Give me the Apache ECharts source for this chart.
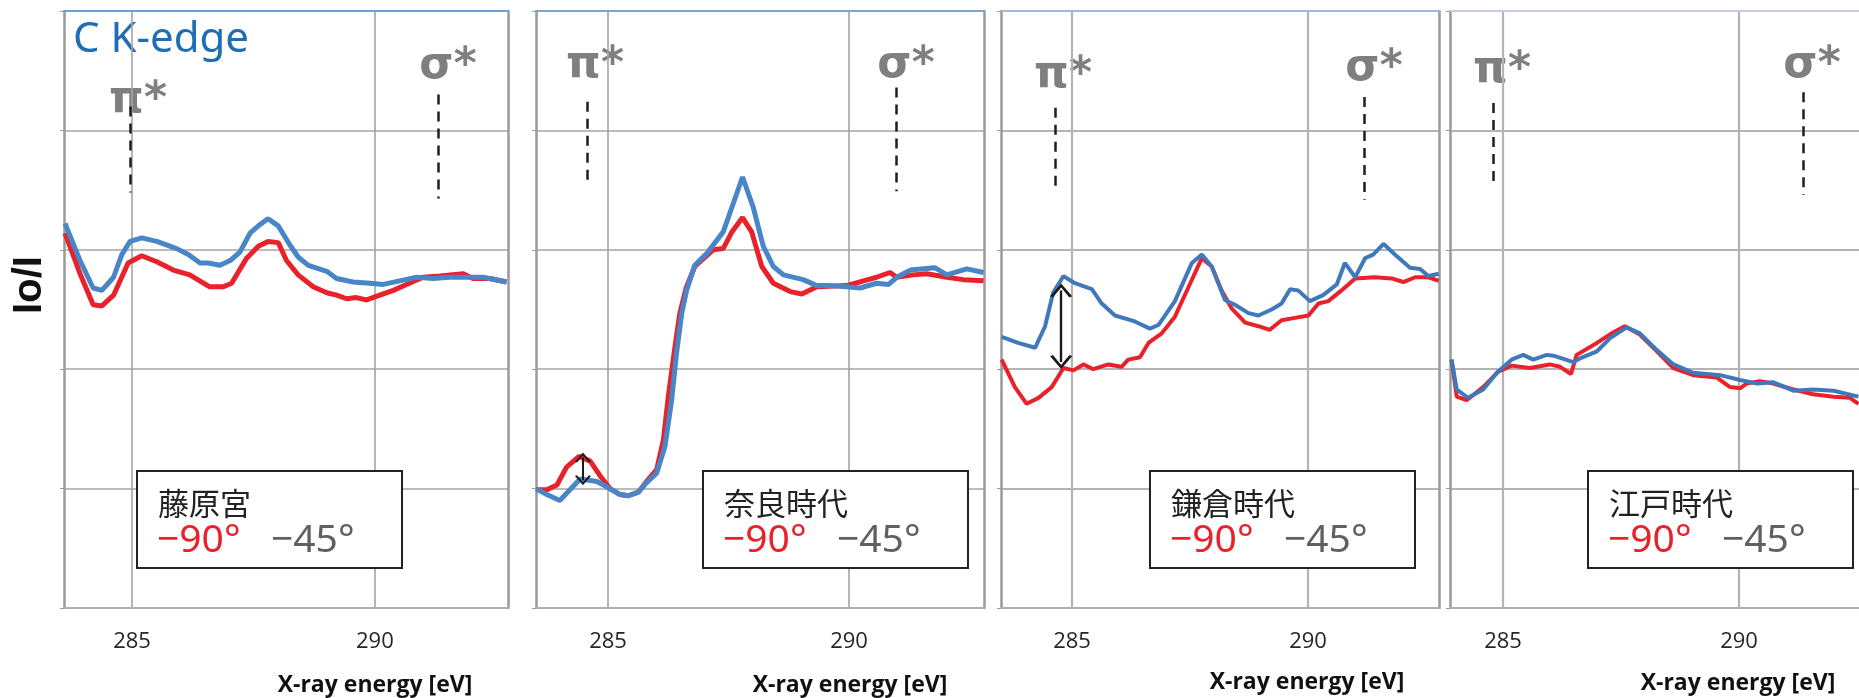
<!DOCTYPE html>
<html><head><meta charset="utf-8">
<style>html,body{margin:0;padding:0;background:#fff}#c{width:1859px;height:698px}</style>
<script src="https://cdn.jsdelivr.net/npm/echarts@6/dist/echarts.min.js"></script>
</head><body><div id="c"></div>
<script>
// ---- data (energy [eV], Io/I in arbitrary units) ----
const panelTitles = ['藤原宮', '奈良時代', '鎌倉時代', '江戸時代'];
const tickValues = [285, 290];
const legendRed = '−90°';
const legendGray = '−45°';

const fujiwara90 = [[283.62,3.14],[283.93,2.80],[284.20,2.54],[284.38,2.53],[284.62,2.62],[284.92,2.89],[285.20,2.95],[285.51,2.90],[285.85,2.83],[286.19,2.79],[286.60,2.69],[286.88,2.69],[287.05,2.72],[287.36,2.93],[287.60,3.03],[287.80,3.07],[288.01,3.06],[288.18,2.91],[288.42,2.79],[288.73,2.69],[289.01,2.64],[289.21,2.62],[289.42,2.59],[289.62,2.60],[289.83,2.58],[290.10,2.62],[290.38,2.66],[290.65,2.71],[290.99,2.77],[291.34,2.78],[291.82,2.80],[292.02,2.76],[292.37,2.76],[292.71,2.73]];
const fujiwara45 = [[283.62,3.22],[283.93,2.91],[284.20,2.68],[284.38,2.66],[284.62,2.77],[284.79,2.96],[284.96,3.07],[285.20,3.10],[285.51,3.07],[285.92,3.01],[286.16,2.96],[286.40,2.89],[286.57,2.89],[286.81,2.87],[287.02,2.91],[287.22,2.98],[287.43,3.14],[287.63,3.21],[287.80,3.26],[288.01,3.20],[288.25,3.04],[288.42,2.94],[288.63,2.87],[289.01,2.82],[289.21,2.76],[289.55,2.73],[289.90,2.72],[290.17,2.71],[290.51,2.74],[290.86,2.77],[291.20,2.76],[291.54,2.77],[291.89,2.77],[292.23,2.77],[292.71,2.73]];
const nara90 = [[283.51,0.99],[283.73,0.99],[283.94,1.03],[284.14,1.18],[284.40,1.27],[284.63,1.23],[284.83,1.11],[285.04,1.00],[285.25,0.95],[285.42,0.94],[285.63,0.97],[285.80,1.06],[286.01,1.16],[286.15,1.41],[286.25,1.77],[286.39,2.19],[286.49,2.47],[286.62,2.68],[286.80,2.86],[287.18,3.00],[287.39,3.01],[287.57,3.15],[287.79,3.27],[287.98,3.15],[288.19,2.86],[288.43,2.72],[288.78,2.65],[289.02,2.63],[289.33,2.69],[289.95,2.70],[290.30,2.74],[290.57,2.77],[290.85,2.81],[290.99,2.77],[291.33,2.79],[291.61,2.80],[292.03,2.77],[292.37,2.75],[292.79,2.74]];
const nara45 = [[283.51,1.00],[283.73,0.95],[284.00,0.90],[284.21,0.99],[284.42,1.08],[284.77,1.06],[285.04,1.00],[285.25,0.95],[285.42,0.94],[285.63,0.97],[285.80,1.05],[286.01,1.13],[286.18,1.35],[286.32,1.74],[286.42,2.13],[286.53,2.47],[286.63,2.66],[286.80,2.87],[287.05,2.97],[287.39,3.15],[287.60,3.39],[287.79,3.61],[288.01,3.36],[288.22,3.03],[288.43,2.86],[288.64,2.79],[289.05,2.75],[289.33,2.70],[289.61,2.70],[289.95,2.69],[290.23,2.68],[290.57,2.72],[290.82,2.71],[290.99,2.77],[291.27,2.83],[291.78,2.85],[292.03,2.79],[292.44,2.84],[292.79,2.81]];
const kamakura90 = [[283.51,2.08],[283.79,1.85],[284.04,1.71],[284.29,1.76],[284.57,1.85],[284.82,2.01],[285.03,1.99],[285.24,2.04],[285.45,2.00],[285.77,2.04],[286.05,2.02],[286.19,2.08],[286.44,2.10],[286.62,2.22],[286.90,2.30],[287.18,2.44],[287.46,2.68],[287.75,2.93],[287.96,2.86],[288.17,2.66],[288.38,2.51],[288.67,2.39],[288.95,2.36],[289.19,2.33],[289.44,2.41],[289.72,2.43],[290.01,2.45],[290.22,2.55],[290.43,2.57],[290.71,2.66],[291.00,2.76],[291.42,2.77],[291.77,2.76],[292.02,2.73],[292.27,2.77],[292.55,2.77],[292.77,2.74]];
const kamakura45 = [[283.51,2.27],[283.86,2.22],[284.22,2.18],[284.43,2.36],[284.60,2.64],[284.82,2.78],[285.06,2.72],[285.42,2.67],[285.63,2.55],[285.91,2.45],[286.33,2.40],[286.65,2.34],[286.83,2.37],[287.18,2.57],[287.54,2.89],[287.75,2.96],[287.96,2.86],[288.24,2.58],[288.45,2.54],[288.74,2.47],[288.95,2.45],[289.23,2.50],[289.44,2.55],[289.62,2.67],[289.79,2.66],[290.04,2.57],[290.32,2.62],[290.61,2.71],[290.78,2.89],[291.00,2.77],[291.21,2.93],[291.38,2.96],[291.60,3.05],[291.84,2.96],[292.16,2.85],[292.37,2.84],[292.55,2.78],[292.77,2.80]];
const edo90 = [[283.91,2.08],[284.02,1.77],[284.23,1.74],[284.58,1.85],[284.90,1.98],[285.18,2.03],[285.57,2.01],[285.99,2.04],[286.21,2.02],[286.44,1.96],[286.56,2.12],[286.99,2.22],[287.34,2.31],[287.58,2.36],[287.90,2.29],[288.26,2.15],[288.61,2.01],[289.03,1.95],[289.53,1.93],[289.81,1.85],[290.02,1.84],[290.16,1.88],[290.44,1.90],[290.73,1.88],[291.15,1.83],[291.57,1.79],[292.00,1.77],[292.35,1.76],[292.53,1.71]];
const edo45 = [[283.91,2.08],[284.02,1.83],[284.26,1.76],[284.58,1.83],[284.87,1.97],[285.18,2.08],[285.43,2.12],[285.64,2.08],[285.93,2.12],[286.10,2.11],[286.49,2.06],[286.63,2.09],[286.99,2.15],[287.27,2.26],[287.62,2.35],[287.90,2.30],[288.26,2.16],[288.61,2.04],[289.03,1.97],[289.60,1.95],[290.02,1.91],[290.38,1.88],[290.73,1.89],[291.15,1.82],[291.57,1.83],[292.00,1.82],[292.53,1.77]];

// peak guide lines: [energy, yTop, yBottom]
const piLines = [[284.96,4.20,3.48],[284.56,4.24,3.53],[284.64,4.19,3.48],[284.80,4.23,3.52]];
const sigmaLines = [[291.30,4.30,3.43],[290.98,4.36,3.49],[291.19,4.28,3.42],[291.36,4.32,3.46]];
// double arrows: [energy, yFrom, yTo] (null = none)
const arrows = [null, [284.48,1.26,1.07], [284.77,2.66,2.06], null];

const redSeries = [fujiwara90, nara90, kamakura90, edo90];
const blueSeries = [fujiwara45, nara45, kamakura45, edo45];

// ---- layout ----
const grids = [
  {left:64, top:11, width:444, height:597},
  {left:536, top:11, width:448, height:597},
  {left:1001, top:11, width:438, height:597},
  {left:1450, top:11, width:409, height:597}
];
const xRanges = [[283.6,292.74],[283.506,292.8],[283.496,292.775],[283.877,292.542]];
const topLineColors = ['#6f9fd6','#7ea5cb','#a6b5de','#c3cbe6'];
const lineWidths = [5, 5, 4, 4];
const blueColors = ['#4886c8','#4886c8','#3f79bb','#3f79bb'];
const RED = '#e8212b';

const chart = echarts.init(document.getElementById('c'), null, {renderer:'canvas'});
const xAxis = [], yAxis = [], series = [], grid = [];
const chev = 'path://M0,11 L10,0 L20,11 L17.5,12 L10,3.5 L2.5,12 Z';

for (let i = 0; i < 4; i++) {
  grid.push(Object.assign({outerBoundsMode:'none', containLabel:false}, grids[i]));
  const gc = (i >= 2) ? '#b4b4b4' : '#a4a4a4';
  xAxis.push({
    type:'value', gridIndex:i, position:'bottom', min:xRanges[i][0], max:xRanges[i][1],
    axisLine:{show:true, onZero:false, lineStyle:{color:'#b0b0b0', width:2}},
    axisTick:{show:false, customValues:tickValues},
    axisLabel:{show:true, customValues:tickValues, color:'#262626', fontSize:22, fontFamily:'Open Sans', margin:23},
    splitLine:{show:true, lineStyle:{color:gc, width:(i>=2?2.2:1.6)}}
  });
  xAxis.push({
    type:'value', gridIndex:i, position:'top', min:xRanges[i][0], max:xRanges[i][1],
    axisLine:{show:true, onZero:false, lineStyle:{color:topLineColors[i], width:2}},
    axisTick:{show:false}, axisLabel:{show:false}, splitLine:{show:false}
  });
  yAxis.push({
    type:'value', gridIndex:i, min:0, max:5, interval:1, position:'left',
    axisLine:{show:true, onZero:false, lineStyle:{color:'#9a9a9a', width:2.5}},
    axisTick:{show:true, length:4, inside:false, lineStyle:{color:'#9a9a9a'}}, axisLabel:{show:false},
    splitLine:{show:true, showMaxLine:false, showMinLine:false, lineStyle:{color:gc, width:(i>=2?2.2:1.6)}}
  });
  yAxis.push({
    type:'value', gridIndex:i, min:0, max:5, interval:1, position:'right',
    axisLine:{show:i<3, onZero:false, lineStyle:{color:'#9a9a9a', width:2.5}},
    axisTick:{show:false}, axisLabel:{show:false}, splitLine:{show:false}
  });
  const xi = i*2, yi = i*2;
  const guide = [piLines[i], sigmaLines[i]].map(g => [
    {coord:[g[0], g[1]]}, {coord:[g[0], g[2]]}
  ]);
  series.push({
    type:'line', xAxisIndex:xi, yAxisIndex:yi, data:redSeries[i], showSymbol:false,
    lineStyle:{color:RED, width:lineWidths[i]}, itemStyle:{color:RED}, z:3, animation:false,
    markLine:{silent:true, symbol:['none','none'], label:{show:false}, animation:false,
      lineStyle:{color:'#1e1e1e', width:2.5, type:[10,7]}, data:guide}
  });
  const bl = {
    type:'line', xAxisIndex:xi, yAxisIndex:yi, data:blueSeries[i], showSymbol:false,
    lineStyle:{color:blueColors[i], width:lineWidths[i]}, itemStyle:{color:blueColors[i]}, z:4, animation:false
  };
  if (arrows[i]) {
    const a = arrows[i];
    const small = (i === 1);
    bl.markLine = {silent:true, symbol:[chev, chev], symbolSize: small ? [16,10] : [22,14],
      label:{show:false}, animation:false,
      lineStyle:{color:'#1a1a1a', width: small ? 2 : 2.4, type:'solid'},
      data:[[{coord:[a[0],a[1]]},{coord:[a[0],a[2]]}]]};
  }
  series.push(bl);
}

// ---- annotations (text) ----
const graphic = [];
const gray = '#7f7f7f';
const piPos = [[138,101],[595,66],[1063,76],[1502,71]];
const sigPos = [[448,67],[906,66],[1374,69],[1812,66]];
const xNamePos = [[375,685],[850,685],[1307,682],[1738,683]];
const boxLeft = [137, 703, 1150, 1588];
const symFont = 'bold 44px "DejaVu Sans", sans-serif';
for (let i = 0; i < 4; i++) {
  graphic.push({type:'text', x:piPos[i][0], y:piPos[i][1], style:{text:'π*', fill:gray, font:symFont, textAlign:'center', textVerticalAlign:'middle'}});
  graphic.push({type:'text', x:sigPos[i][0], y:sigPos[i][1], style:{text:'σ*', fill:gray, font:symFont, textAlign:'center', textVerticalAlign:'middle'}});
  graphic.push({type:'text', x:xNamePos[i][0], y:xNamePos[i][1], style:{text:'X-ray energy [eV]', fill:'#111', font:'bold 23px "Open Sans", sans-serif', textAlign:'center', textVerticalAlign:'middle'}});
  const L = boxLeft[i];
  graphic.push({type:'rect', shape:{x:L, y:471, width:265, height:97}, style:{fill:'#fff', stroke:'#222', lineWidth:2}, z:10});
  graphic.push({type:'text', x:L+21, y:503, z:11, style:{text:panelTitles[i], fill:'#222', font:'31px "Noto Sans CJK JP", sans-serif', textAlign:'left', textVerticalAlign:'middle'}});
  graphic.push({type:'text', x:L+20, y:541, z:11, style:{text:legendRed, fill:'#e8212b', font:'39px "Noto Sans", sans-serif', textAlign:'left', textVerticalAlign:'middle'}});
  graphic.push({type:'text', x:L+134, y:541, z:11, style:{text:legendGray, fill:'#5f6062', font:'39px "Noto Sans", sans-serif', textAlign:'left', textVerticalAlign:'middle'}});
}
graphic.push({type:'text', x:73, y:40, style:{text:'C K-edge', fill:'#1e6db5', font:'42px "Noto Sans", sans-serif', textAlign:'left', textVerticalAlign:'middle'}});
graphic.push({type:'text', x:30, y:285, rotation:Math.PI/2, style:{text:'Io/I', fill:'#111', font:'bold 40px "Liberation Sans", Arial, sans-serif', textAlign:'center', textVerticalAlign:'middle'}});

chart.setOption({animation:false, backgroundColor:'#fff', grid, xAxis, yAxis, series, graphic});
</script></body></html>
